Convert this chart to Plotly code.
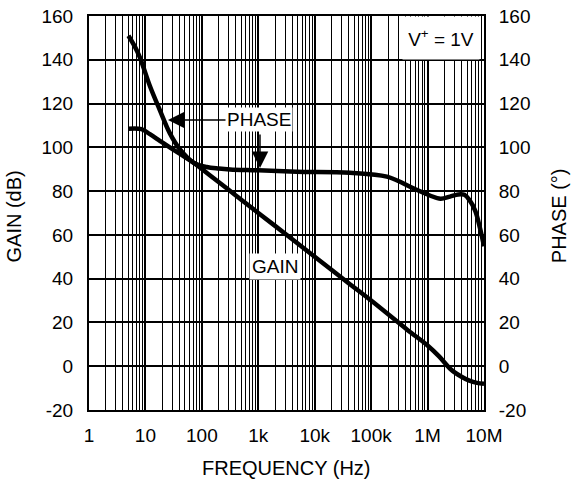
import plotly.graph_objects as go

# gain curve (dB) vs frequency (Hz)
gain_freq = [5, 8.5, 12, 18, 27, 41, 71, 160, 400, 1000, 3800, 10000, 41000,
             100000, 435000, 1e6, 1.6e6, 2.6e6, 4e6, 5.5e6, 7.5e6, 1e7]
gain_db = [108.5, 108.3, 106, 103, 100, 97, 93, 86, 78, 70, 58.5, 50, 37.7,
           30, 16.7, 9.5, 4.5, -1.5, -4.8, -6.6, -7.6, -8]

# phase curve (degrees) vs frequency (Hz)
phase_freq = [5, 6.5, 8, 12, 18, 27, 41, 71, 122, 200, 316, 1000, 4800, 42000,
              190000, 560000, 1.1e6, 1.7e6, 2.5e6, 3.5e6, 4.5e6, 5.5e6, 7e6, 8.5e6, 1e7]
phase_deg = [151, 146, 141, 128, 117, 106.5, 99, 93, 91, 90.3, 89.9, 89.5, 88.9, 88.4,
             86.6, 81.3, 78, 76.5, 77.5, 78.5, 78.3, 76, 71, 63, 54.8]

x_ticks = [1, 10, 100, 1000, 1e4, 1e5, 1e6, 1e7]
x_labels = ["1", "10", "100", "1k", "10k", "100k", "1M", "10M"]
y_ticks = [-20, 0, 20, 40, 60, 80, 100, 120, 140, 160]
y_labels = ["-20", "0", "20", "40", "60", "80", "100", "120", "140", "160"]

FONT = "Liberation Sans, Arial, sans-serif"

fig = go.Figure()
fig.add_trace(go.Scatter(x=gain_freq, y=gain_db, mode="lines", line_shape="spline",
                         line=dict(color="black", width=4.5), showlegend=False))
fig.add_trace(go.Scatter(x=phase_freq, y=phase_deg, mode="lines", line_shape="spline",
                         line=dict(color="black", width=4.5), showlegend=False, yaxis="y2"))

axis_common = dict(showline=True, linecolor="black", linewidth=2, ticks="",
                   showgrid=True, gridcolor="black", gridwidth=2, zeroline=False,
                   automargin=False, tickfont=dict(size=19, color="black"))

fig.update_layout(
    width=574, height=480,
    margin=dict(l=89, r=90, t=16, b=70),
    plot_bgcolor="white", paper_bgcolor="white",
    font=dict(family=FONT, size=19, color="black"),
    xaxis=dict(axis_common, type="log", range=[0, 7], tickvals=x_ticks, ticktext=x_labels,
               mirror=True, ticklabelstandoff=7,
               minor=dict(showgrid=True, gridcolor="black", gridwidth=1.4, dtick="D1")),
    yaxis=dict(axis_common, range=[-20, 160], tickvals=y_ticks, ticktext=y_labels,
               mirror=True, ticklabelstandoff=10),
    yaxis2=dict(axis_common, range=[-20, 160], tickvals=y_ticks, ticktext=y_labels,
                overlaying="y", side="right", showgrid=False, ticklabelstandoff=9),
)

# axis titles
fig.add_annotation(xref="paper", yref="paper", x=0.501, y=-0.146, text="FREQUENCY (Hz)",
                   xanchor="center", yanchor="middle", showarrow=False, font=dict(size=20))
fig.add_annotation(xref="paper", yref="paper", x=-0.189, y=0.492, text="GAIN (dB)",
                   xanchor="center", yanchor="middle", textangle=-90, showarrow=False,
                   font=dict(size=20))
fig.add_annotation(xref="paper", yref="paper", x=1.19, y=0.492, text="PHASE (°)",
                   xanchor="center", yanchor="middle", textangle=-90, showarrow=False,
                   font=dict(size=20))

# labels and arrows (x in log10 units on the log axis)
fig.add_annotation(x=1.40, y=112.5, text="PHASE", showarrow=True, ax=91, ay=0,
                   bgcolor="white", font=dict(size=19), borderpad=1,
                   arrowhead=2, arrowsize=2.2, arrowwidth=1.5, arrowcolor="black")
fig.add_annotation(x=3.03, y=90.6, text="", showarrow=True, ax=0, ay=-35,
                   arrowhead=2, arrowsize=2.2, arrowwidth=1.5, arrowcolor="black")
fig.add_annotation(x=3.30, y=45.6, text="GAIN", showarrow=False, bgcolor="white",
                   font=dict(size=19), borderpad=2)
fig.add_annotation(x=6.24, y=149.9, text="V<sup>+</sup> = 1V", showarrow=False,
                   bgcolor="white", font=dict(size=19), width=76, height=42, borderpad=0)

# drop the default body margin so the figure sits at the window's corner
fig.write_html("out.html", config={"displayModeBar": False},
               post_script="document.body.style.margin = '0';")
